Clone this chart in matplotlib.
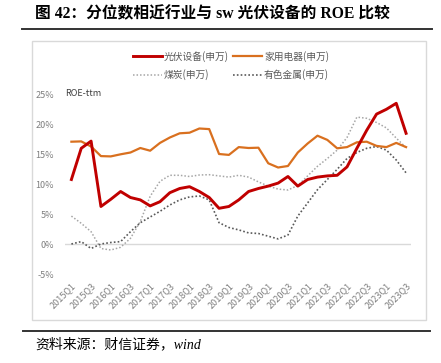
import matplotlib
matplotlib.use("Agg")
import matplotlib.pyplot as plt
from matplotlib.lines import Line2D
from matplotlib.patches import Rectangle

plt.rcParams["font.family"] = ["Noto Sans CJK SC", "DejaVu Sans"]
plt.rcParams["axes.unicode_minus"] = False

# ── Data (ROE-ttm, %) ─────────────────────────────────────────────────────────
quarters = [f"{y}Q{q}" for y in range(2015, 2024) for q in range(1, 5)][:35]

pv = [10.8, 16.0, 17.2, 6.3, 7.5, 8.8, 7.8, 7.4, 6.4, 7.1, 8.6, 9.3, 9.6, 8.8,
      7.8, 6.0, 6.3, 7.4, 8.8, 9.3, 9.7, 10.2, 11.3, 9.7, 10.8, 11.2, 11.4,
      11.5, 12.9, 16.0, 19.0, 21.7, 22.5, 23.5, 18.5]
appliance = [17.1, 17.15, 16.3, 14.7, 14.65, 15.0, 15.3, 16.05, 15.6, 16.9,
             17.8, 18.5, 18.6, 19.3, 19.2, 15.05, 14.9, 16.2, 16.05, 16.1,
             13.5, 12.8, 13.05, 15.3, 16.8, 18.1, 17.4, 16.0, 16.2, 17.0,
             17.1, 16.4, 16.2, 16.9, 16.2]
coal = [4.7, 3.5, 2.1, -0.7, -0.95, -0.5, 1.0, 3.8, 8.0, 10.5, 11.5, 11.5,
        11.3, 11.55, 11.6, 11.4, 11.2, 11.5, 11.2, 10.4, 9.7, 9.2, 9.05, 9.8,
        11.4, 13.0, 14.3, 15.7, 17.8, 21.2, 21.0, 20.3, 19.4, 17.7, 16.1]
metals = [0.05, 0.45, -0.7, 0.05, 0.3, 0.45, 2.1, 3.6, 4.55, 5.5, 6.55, 7.4,
          7.9, 8.05, 7.4, 3.6, 2.8, 2.4, 1.9, 1.8, 1.35, 0.9, 1.55, 4.7, 6.9,
          9.1, 10.8, 12.5, 14.3, 15.3, 16.0, 16.3, 15.7, 14.05, 11.9]

yticks = [-5, 0, 5, 10, 15, 20, 25]

W, H = 441, 363
fig = plt.figure(figsize=(W / 100, H / 100), dpi=100)
ax = fig.add_axes([65 / W, 1 - 274.3 / H, 346 / W, 180 / H])

x = list(range(len(quarters)))
ax.axhline(0, color="#d9d9d9", lw=1.0, zorder=1)
l_coal, = ax.plot(x, coal, color="#a6a6a6", lw=1.1, ls=(0, (1, 1.3)), zorder=2)
l_met, = ax.plot(x, metals, color="#595959", lw=1.2, ls=(0, (1, 1.3)), zorder=2)
l_app, = ax.plot(x, appliance, color="#d9701f", lw=1.6, zorder=3)
l_pv, = ax.plot(x, pv, color="#c00000", lw=2.1, zorder=4)

ax.set_xlim(-0.65, 34.5)
ax.set_ylim(-5, 25)
ax.set_yticks(yticks)
ax.set_yticklabels([f"{v}%" for v in yticks])
ax.set_xticks(x[::2])
ax.set_xticklabels(quarters[::2], rotation=45, ha="right", rotation_mode="anchor")
ax.tick_params(axis="both", length=0, labelsize=6.5, labelcolor="#7f7f7f")
ax.tick_params(axis="y", pad=8)
ax.tick_params(axis="x", pad=5)
for s in ax.spines.values():
    s.set_visible(False)

fig.text(65 / W, 1 - 93 / H, "ROE-ttm", fontsize=6.5, color="#404040", va="center")

fig.legend([l_pv, l_coal, l_app, l_met],
           ["光伏设备(申万)", "煤炭(申万)", "家用电器(申万)", "有色金属(申万)"],
           ncol=2, loc="upper left", bbox_to_anchor=(128 / W, 1 - 46 / H),
           frameon=False, fontsize=7, labelcolor="#595959", handlelength=3.0,
           handletextpad=0.2, columnspacing=0.4, labelspacing=0.75,
           borderpad=0)

# chart frame
fig.patches.append(Rectangle((32 / W, 1 - 320 / H), 394 / W, 279 / H,
                             transform=fig.transFigure, fill=False,
                             edgecolor="#d9d9d9", lw=1.0))

# title and source
fig.text(35 / W, 1 - 14 / H, "图 42：分位数相近行业与 sw 光伏设备的 ROE 比较",
         fontsize=11.3, fontweight="bold", va="center",
         family=["Liberation Serif", "Noto Sans CJK SC"])
fig.add_artist(Line2D([22 / W, 432 / W], [1 - 28.5 / H] * 2,
                      color="#333333", lw=1.4, transform=fig.transFigure))
fig.add_artist(Line2D([23 / W, 430 / W], [1 - 331 / H] * 2,
                      color="#333333", lw=1.4, transform=fig.transFigure))
fig.text(35 / W, 1 - 344 / H, "资料来源：财信证券，wind", fontsize=10,
         style="italic", va="center",
         family=["Liberation Serif", "Noto Sans CJK SC"])

fig.savefig("out.png", dpi=100)
